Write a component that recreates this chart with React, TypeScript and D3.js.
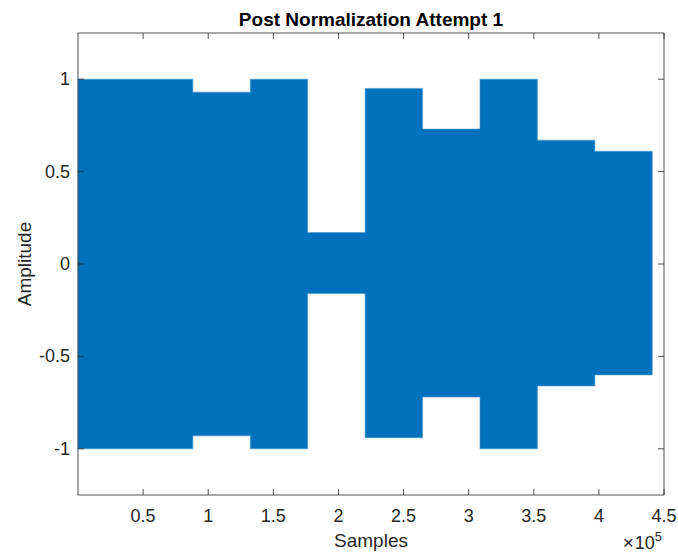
import { useEffect, useRef } from "react";
import * as d3 from "d3";

// segment start samples, each ~44100 samples long
const segStart = [0, 44100, 88200, 132300, 176400, 220500, 264600, 308700, 352800, 396900];
const segEnd = 441000;
const upperEnv = [1, 1, 0.93, 1, 0.17, 0.95, 0.73, 1, 0.67, 0.61];
const lowerEnv = [-1, -1, -0.93, -1, -0.16, -0.94, -0.72, -1, -0.66, -0.6];
const xTicks = [50000, 100000, 150000, 200000, 250000, 300000, 350000, 400000, 450000];
const xTickLabels = ["0.5", "1", "1.5", "2", "2.5", "3", "3.5", "4", "4.5"];
const yTicks = [-1, -0.5, 0, 0.5, 1];
const yTickLabels = ["-1", "-0.5", "0", "0.5", "1"];

const W = 678, H = 554;
const m = { left: 78, right: 14, top: 33, bottom: 59 };
const axisColor = "#262626";
const font = "'Liberation Sans', Arial, sans-serif";

export default function App() {
  const ref = useRef<SVGSVGElement>(null);

  useEffect(() => {
    const svg = d3.select(ref.current);
    svg.selectAll("*").remove();

    const x = d3.scaleLinear().domain([0, 450000]).range([m.left, W - m.right]);
    const y = d3.scaleLinear().domain([-1.25, 1.25]).range([H - m.bottom, m.top]);

    const pts = segStart.map((s, i) => ({ s, hi: upperEnv[i], lo: lowerEnv[i] }));
    pts.push({ s: segEnd, hi: upperEnv[upperEnv.length - 1], lo: lowerEnv[lowerEnv.length - 1] });

    const area = d3.area<{ s: number; hi: number; lo: number }>()
      .x(d => x(d.s))
      .y0(d => y(d.lo))
      .y1(d => y(d.hi))
      .curve(d3.curveStepAfter);

    svg.append("path")
      .datum(pts)
      .attr("d", area)
      .attr("fill", "#0072BD")
      .attr("stroke", "#4a97cc")
      .attr("stroke-width", 0.6);

    const x0 = m.left, x1 = W - m.right, y0 = m.top, y1 = H - m.bottom;
    const g = svg.append("g").attr("stroke", axisColor).attr("stroke-width", 0.8);
    g.append("rect").attr("x", x0).attr("y", y0).attr("width", x1 - x0).attr("height", y1 - y0).attr("fill", "none");

    const tl = 6;
    xTicks.forEach(t => {
      g.append("line").attr("x1", x(t)).attr("x2", x(t)).attr("y1", y1).attr("y2", y1 - tl);
      g.append("line").attr("x1", x(t)).attr("x2", x(t)).attr("y1", y0).attr("y2", y0 + tl);
    });
    yTicks.forEach(t => {
      g.append("line").attr("x1", x0).attr("x2", x0 + tl).attr("y1", y(t)).attr("y2", y(t));
      g.append("line").attr("x1", x1).attr("x2", x1 - tl).attr("y1", y(t)).attr("y2", y(t));
    });

    const txt = svg.append("g").attr("font-family", font).attr("fill", axisColor);
    xTicks.forEach((t, i) => {
      txt.append("text").attr("x", x(t)).attr("y", y1 + 27).attr("text-anchor", "middle")
        .attr("font-size", 18).text(xTickLabels[i]);
    });
    yTicks.forEach((t, i) => {
      txt.append("text").attr("x", x0 - 8).attr("y", y(t) + 6).attr("text-anchor", "end")
        .attr("font-size", 18).text(yTickLabels[i]);
    });

    txt.append("text").attr("x", (x0 + x1) / 2).attr("y", 547).attr("text-anchor", "middle")
      .attr("font-size", 19).text("Samples");
    txt.append("text").attr("transform", `translate(31,${(y0 + y1) / 2}) rotate(-90)`)
      .attr("text-anchor", "middle").attr("font-size", 19).text("Amplitude");
    txt.append("text").attr("x", (x0 + x1) / 2).attr("y", 26).attr("text-anchor", "middle")
      .attr("font-size", 19).attr("font-weight", "bold").attr("fill", "#000").text("Post Normalization Attempt 1");

    const ex = txt.append("text").attr("x", x1 - 2).attr("y", 549).attr("text-anchor", "end").attr("font-size", 18);
    ex.append("tspan").attr("font-size", 19).text("\u00d7");
    ex.append("tspan").attr("dx", 1).text("10");
    ex.append("tspan").attr("dy", -8).attr("font-size", 13).text("5");
  }, []);

  return <svg ref={ref} width={W} height={H} style={{ display: "block", position: "absolute", left: 0, top: 0 }} />;
}
